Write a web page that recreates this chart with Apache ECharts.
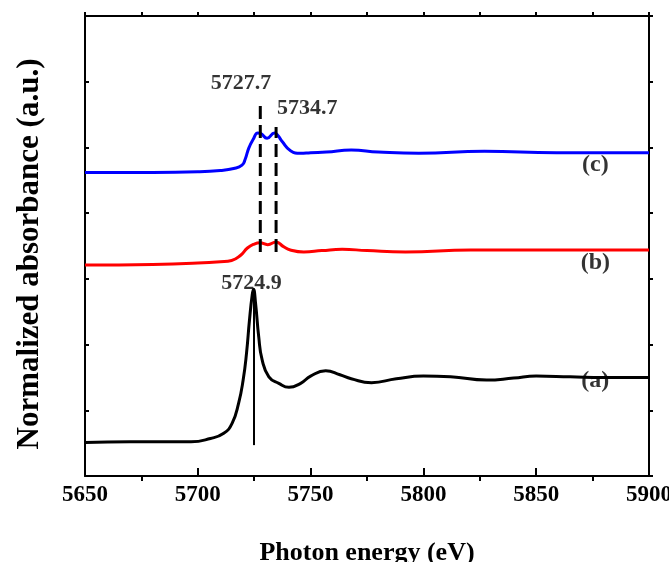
<!DOCTYPE html>
<html>
<head>
<meta charset="utf-8">
<script src="https://cdn.jsdelivr.net/npm/echarts@6/dist/echarts.min.js"></script>
<style>html,body{margin:0;padding:0;background:#fff}#c{width:669px;height:562px}</style>
</head>
<body>
<div id="c"></div>
<script>
// ---- data ----
var xTicks = [5650, 5700, 5750, 5800, 5850, 5900];
var aX = [5650,5670,5690,5697,5705.6,5711.5,5715.2,5718.1,5720.1,5721.6,5722.9,5724.1,5724.7,5725.6,5727,5728.5,5731.5,5735.9,5740.4,5745.6,5750,5756.7,5763,5768,5777,5788,5800,5812,5828,5840,5850,5865,5880,5900];
var aY = [0.51,0.52,0.52,0.52,0.57,0.65,0.80,1.11,1.46,1.87,2.37,2.75,2.84,2.63,2.12,1.77,1.51,1.41,1.35,1.41,1.52,1.60,1.54,1.48,1.42,1.48,1.52,1.51,1.46,1.49,1.52,1.51,1.50,1.50];
var bX = [5650,5680,5700,5710,5715,5719,5722,5725,5727.5,5731,5734.7,5738,5741,5747,5755,5764,5775,5792,5821,5859,5900];
var bY = [3.21,3.22,3.24,3.26,3.28,3.36,3.47,3.53,3.55,3.52,3.56,3.49,3.44,3.41,3.43,3.45,3.43,3.41,3.44,3.44,3.44];
var cX = [5650,5680,5700,5710,5715.9,5719.6,5721,5722.6,5724.5,5726.6,5728,5730.7,5734,5735.5,5737.4,5741.1,5745.6,5750,5757,5768,5780,5798,5827,5859,5900];
var cY = [4.62,4.62,4.63,4.65,4.68,4.73,4.82,4.99,5.12,5.22,5.21,5.14,5.22,5.18,5.09,4.95,4.91,4.92,4.93,4.96,4.93,4.91,4.94,4.92,4.92];
var peakA = 5724.9, peakA_range = [0.47, 2.85];
var peakC1 = 5727.7, peakC1_range = [3.41, 5.65];
var peakC2 = 5734.7, peakC2_range = [3.41, 5.31];
var annText = ['5727.7', '5734.7', '5724.9'];
var annX = [5719.2, 5748.5, 5723.8];
var annY = [5.97, 5.60, 2.93];
var curveText = ['(c)', '(b)', '(a)'];
var curveTextX = [5876.2, 5876.2, 5876.2];
var curveTextY = [4.73, 3.24, 1.45];

function zip(xs, ys){ return xs.map(function(x,i){ return [x, ys[i]]; }); }

var FONT = '"Liberation Serif","Times New Roman",serif';
var chart = echarts.init(document.getElementById('c'));
var option = {
  animation: false,
  grid: {left: 85, right: 20, top: 16, bottom: 86, containLabel: false, outerBoundsMode: 'none'},
  xAxis: [
    {type: 'value', position: 'bottom', min: 5650, max: 5900, interval: 50,
     axisLine: {show: true, onZero: false, lineStyle: {color: '#000', width: 2}},
     axisTick: {show: true, inside: true, length: 8, lineStyle: {color: '#000', width: 2}},
     axisLabel: {color: '#000', fontFamily: FONT, fontWeight: 'bold', fontSize: 23, margin: 8,
                 hideOverlap: false, formatter: function(v){ return String(v); }},
     splitLine: {show: false},
     name: 'Photon energy (eV)', nameLocation: 'middle', nameGap: 64,
     nameTextStyle: {color: '#000', fontFamily: FONT, fontWeight: 'bold', fontSize: 26}},
    {type: 'value', position: 'bottom', min: 5650, max: 5900, interval: 50,
     axisLine: {show: false}, axisTick: {show: false, inside: false},
     minorTick: {show: true, splitNumber: 2, length: 5, lineStyle: {color: '#000', width: 2}},
     axisLabel: {show: false}, splitLine: {show: false}},
    {type: 'value', position: 'top', min: 5650, max: 5900, interval: 25,
     axisLine: {show: true, onZero: false, lineStyle: {color: '#000', width: 2}},
     axisTick: {show: true, inside: false, length: 4, lineStyle: {color: '#000', width: 2}},
     axisLabel: {show: false}, splitLine: {show: false}}
  ],
  yAxis: [
    {type: 'value', position: 'left', min: 0, max: 7, interval: 1,
     axisLine: {show: true, onZero: false, lineStyle: {color: '#000', width: 2}},
     axisTick: {show: true, inside: true, length: 4, lineStyle: {color: '#000', width: 2}},
     axisLabel: {show: false}, splitLine: {show: false},
     name: 'Normalized absorbance (a.u.)', nameLocation: 'middle', nameGap: 40,
     nameTextStyle: {color: '#000', fontFamily: FONT, fontWeight: 'bold', fontSize: 31,
                     padding: [0, 16, 0, 0]}},
    {type: 'value', position: 'right', min: 0, max: 7, interval: 1,
     axisLine: {show: true, onZero: false, lineStyle: {color: '#000', width: 2}},
     axisTick: {show: true, inside: false, length: 4, lineStyle: {color: '#000', width: 2}},
     axisLabel: {show: false}, splitLine: {show: false}}
  ],
  series: [
    {type: 'line', data: zip(aX, aY), showSymbol: false, smooth: 0.5,
     lineStyle: {color: '#000', width: 3}},
    {type: 'line', data: zip(bX, bY), showSymbol: false, smooth: 0.5,
     lineStyle: {color: '#ff0000', width: 3}},
    {type: 'line', data: zip(cX, cY), showSymbol: false, smooth: 0.5,
     lineStyle: {color: '#0000ff', width: 3}},
    {type: 'line', data: [[peakA, peakA_range[0]], [peakA, peakA_range[1]]], showSymbol: false,
     lineStyle: {color: '#000', width: 2}},
    {type: 'line', data: [[peakC1, peakC1_range[0]], [peakC1, peakC1_range[1]]], showSymbol: false,
     lineStyle: {color: '#000', width: 3, type: [13, 6]}},
    {type: 'line', data: [[peakC2, peakC2_range[0]], [peakC2, peakC2_range[1]]], showSymbol: false,
     lineStyle: {color: '#000', width: 3, type: [13, 6]}},
    {type: 'scatter', symbolSize: 0, silent: true, z: 5,
     data: annText.map(function(t, i){ return {name: t, value: [annX[i], annY[i]]}; }),
     label: {show: true, position: 'inside', formatter: '{b}', color: '#000',
             fontFamily: FONT, fontWeight: 'bold', fontSize: 22}},
    {type: 'scatter', symbolSize: 0, silent: true, z: 5,
     data: curveText.map(function(t, i){ return {name: t, value: [curveTextX[i], curveTextY[i]]}; }),
     label: {show: true, position: 'inside', formatter: '{b}', color: '#000',
             fontFamily: FONT, fontWeight: 'bold', fontSize: 24}}
  ]
};
chart.setOption(option);
</script>
</body>
</html>
